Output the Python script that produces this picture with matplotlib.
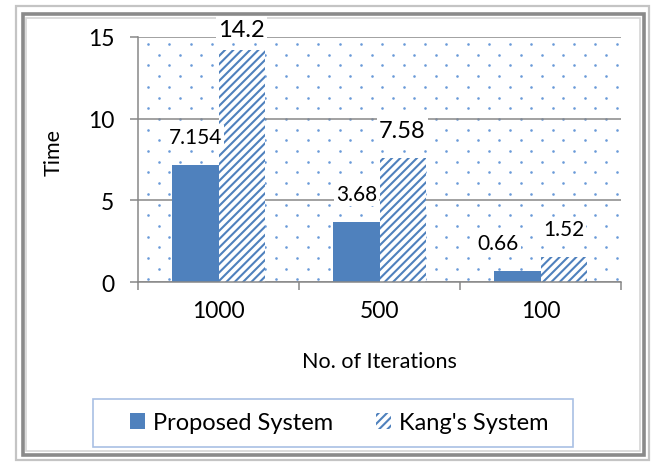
import numpy as np
import matplotlib.pyplot as plt
from matplotlib.patches import Rectangle

plt.rcParams['font.family'] = ['Lato', 'DejaVu Sans']
plt.rcParams['hatch.linewidth'] = 1.5

categories = ['1000', '500', '100']
proposed = [7.154, 3.68, 0.66]
kang = [14.2, 7.58, 1.52]

blue = '#4F81BD'
dot_blue = '#6A9AD8'
grey = '#878787'
W, H = 654, 464


def fx(px):
    return px / W


def fy(py):
    return 1 - py / H


fig = plt.figure(figsize=(6.54, 4.64), dpi=100)
ax = fig.add_axes([fx(138), fy(283), fx(621) - fx(138), fy(38) - fy(283)])
aw, ah = 621 - 138, 283 - 38

# dotted plot area (staggered dot pattern, in pixel steps)
dots_x, dots_y = [], []
for r, yy in enumerate(np.arange(7, ah, 10.7)):
    xx = np.arange(10 + (10.6 if r % 2 else 0), aw, 21.3)
    dots_x.extend(xx / aw)
    dots_y.extend([1 - yy / ah] * len(xx))
ax.scatter(dots_x, dots_y, s=3.5, color=dot_blue, lw=0, transform=ax.transAxes, zorder=0.2)

x = np.arange(len(categories))
w = 0.286
ax.bar(x - w / 2, proposed, w, color=blue, lw=0, zorder=2, label='Proposed System')
ax.bar(x + w / 2, kang, w, facecolor='white', edgecolor=blue, lw=0, hatch='////',
       zorder=2, label="Kang's System")

# data labels
dx_p = [0, 0, -14]
for i, v in enumerate(proposed):
    ax.annotate(f'{v:g}', (x[i] - w / 2, v), xytext=(dx_p[i], 20), textcoords='offset points',
                ha='center', va='center', fontsize=15, zorder=5, annotation_clip=False,
                bbox=dict(boxstyle='square,pad=0.1', fc='white', ec='none'))
k_size = [17, 17, 15]
k_dy = [15, 20, 20]
for i, v in enumerate(kang):
    ax.annotate(f'{v:g}', (x[i] + w / 2, v), xytext=(0, k_dy[i]), textcoords='offset points',
                ha='center', va='center', fontsize=k_size[i], zorder=5, annotation_clip=False,
                bbox=dict(boxstyle='square,pad=0.1', fc='white', ec='none'))

ax.set_xlim(-0.5, 2.5)
ax.set_ylim(0, 15)
ax.set_yticks([0, 5, 10, 15])
ax.set_xticks(x)
ax.set_xticklabels(categories)
ax.set_xticks([-0.5, 0.5, 1.5, 2.5], minor=True)
ax.tick_params(axis='x', which='major', length=0, labelsize=16.5, pad=13)
ax.tick_params(axis='x', which='minor', length=6, width=1.1, color=grey)
ax.tick_params(axis='y', length=6, width=1.1, color=grey, labelsize=16.5, pad=11)
ax.grid(axis='y', color=grey, lw=1.1, zorder=1)
for s in ['top', 'right']:
    ax.spines[s].set_visible(False)
for s in ['left', 'bottom']:
    ax.spines[s].set_color(grey)
    ax.spines[s].set_linewidth(1.1)

ax.set_xlabel('No. of Iterations', fontsize=15.5)
ax.xaxis.set_label_coords(0.5, -(352 - 283) / ah)
ax.set_ylabel('Time', fontsize=15.5)
ax.yaxis.set_label_coords(-(138 - 64) / aw, (283 - 153) / ah)

# legend
fig.patches.append(Rectangle((fx(93), fy(448)), fx(573) - fx(93), fy(400) - fy(448),
                             transform=fig.transFigure, facecolor='white',
                             edgecolor='#A9C0E4', lw=1.2, zorder=1))
fig.legend(loc='center', bbox_to_anchor=(fx(339), fy(424)), ncol=2, frameon=False,
           fontsize=17, handlelength=0.64, handleheight=0.64, handletextpad=0.35,
           columnspacing=1.8)

# beveled outer frame
fig.patches.append(Rectangle((fx(16), fy(461)), fx(649) - fx(16), fy(7) - fy(461),
                             transform=fig.transFigure, fill=False, edgecolor='#C4C4C4',
                             lw=1.6, zorder=-1))
fig.patches.append(Rectangle((fx(23), fy(456)), fx(644) - fx(23), fy(15) - fy(456),
                             transform=fig.transFigure, fill=False, edgecolor='#8A8A8A',
                             lw=2.6, zorder=-1))
fig.patches.append(Rectangle((fx(26), fy(452)), fx(640) - fx(26), fy(19) - fy(452),
                             transform=fig.transFigure, fill=False, edgecolor='#D6D6D6',
                             lw=1.2, zorder=-1))

fig.savefig('out.png', dpi=100)
